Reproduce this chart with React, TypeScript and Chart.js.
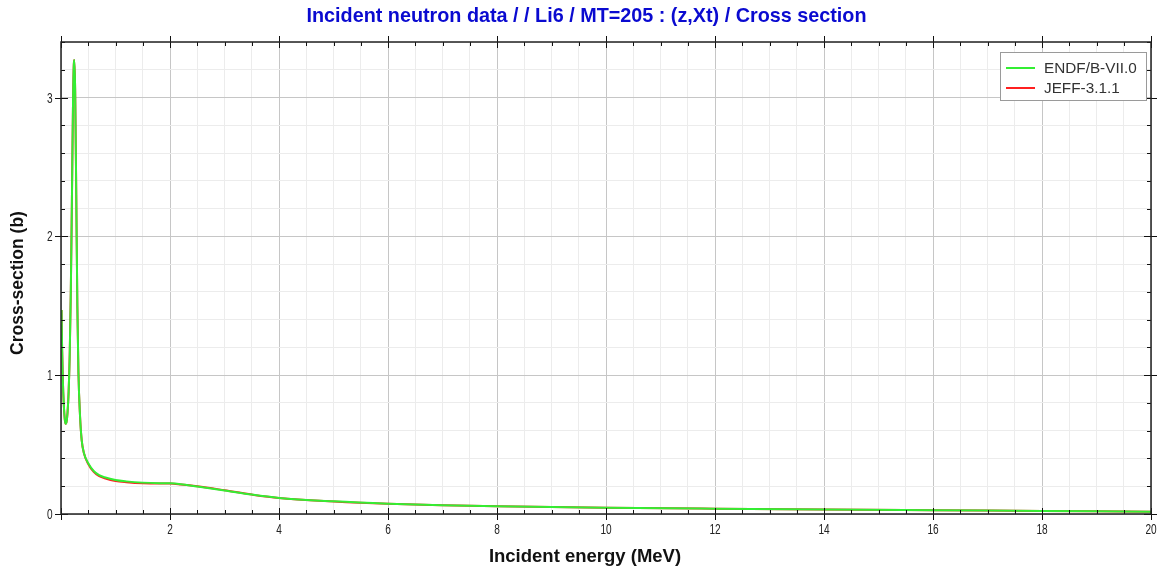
import React, { useEffect, useRef } from 'react';
import { Chart, registerables } from 'chart.js';

Chart.register(...registerables);

const chartTitle = 'Incident neutron data / / Li6 / MT=205 : (z,Xt) / Cross section';
const xAxisTitle = 'Incident energy (MeV)';
const yAxisTitle = 'Cross-section (b)';
const seriesNames = ['ENDF/B-VII.0', 'JEFF-3.1.1'];
const seriesColors = ['#33ee33', '#ff2020'];

const energyMeV = [
  0.01, 0.02, 0.035, 0.05, 0.07, 0.085, 0.1, 0.12, 0.14, 0.16, 0.18, 0.2, 0.22, 0.235, 0.245,
  0.26, 0.28, 0.3, 0.32, 0.35, 0.38, 0.42, 0.5, 0.6, 0.7, 0.8, 1.0, 1.2, 1.5, 1.8, 2.0, 2.2,
  2.5, 3.0, 3.5, 4.0, 5.0, 6.0, 7.0, 8.0, 10, 12, 14, 16, 18, 20,
];
const endfValues = [
  1.47, 1.2, 0.95, 0.8, 0.68, 0.65, 0.66, 0.73, 0.88, 1.15, 1.6, 2.25, 2.95, 3.24, 3.27,
  3.05, 2.3, 1.5, 1.02, 0.7, 0.53, 0.44, 0.365, 0.31, 0.28, 0.265, 0.245, 0.235, 0.226, 0.222, 0.221, 0.215,
  0.198, 0.17, 0.14, 0.116, 0.091, 0.074, 0.063, 0.055, 0.045, 0.038, 0.032, 0.027, 0.022, 0.017,
];
const jeffValues = [
  1.47, 1.2, 0.95, 0.8, 0.68, 0.65, 0.66, 0.73, 0.88, 1.15, 1.6, 2.25, 2.95, 3.24, 3.27,
  3.05, 2.3, 1.5, 1.02, 0.7, 0.53, 0.44, 0.36, 0.303, 0.272, 0.258, 0.238, 0.229, 0.221, 0.219, 0.219, 0.213,
  0.2, 0.171, 0.14, 0.115, 0.09, 0.073, 0.063, 0.055, 0.045, 0.038, 0.032, 0.027, 0.022, 0.017,
];
const xTickLabels = [2, 4, 6, 8, 10, 12, 14, 16, 18, 20];
const yTickLabels = [0, 1, 2, 3];

const near = (a: number, b: number) => Math.abs(a - b) < 1e-6;
const isXMajor = (v: number) => xTickLabels.some((t) => near(t, v)) || near(v, 0);
const isYMajor = (v: number) => yTickLabels.some((t) => near(t, v));

const drawNarrow = (ctx: any, text: string, x: number, y: number, align: string) => {
  const sx = 0.72;
  ctx.save();
  ctx.translate(x, y);
  ctx.scale(sx, 1);
  ctx.textAlign = align;
  ctx.fillText(text, 0, 0);
  ctx.restore();
};

const decorPlugin = {
  id: 'decor',
  afterDraw(chart: any) {
    const { ctx, chartArea: a, scales } = chart;
    const xs = scales.x;
    const ys = scales.y;
    ctx.save();
    // ticks
    ctx.strokeStyle = '#111';
    ctx.lineWidth = 1;
    ctx.beginPath();
    xs.ticks.forEach((t: any) => {
      const px = Math.round(xs.getPixelForValue(t.value)) + 0.5;
      const major = isXMajor(t.value);
      ctx.moveTo(px, a.bottom + (major ? 6 : 0));
      ctx.lineTo(px, a.bottom - (major ? 6 : 4));
      ctx.moveTo(px, a.top - (major ? 6 : 0));
      ctx.lineTo(px, a.top + (major ? 6 : 4));
    });
    ys.ticks.forEach((t: any) => {
      const py = Math.round(ys.getPixelForValue(t.value)) + 0.5;
      const major = isYMajor(t.value);
      ctx.moveTo(a.left - (major ? 6 : 0), py);
      ctx.lineTo(a.left + (major ? 7 : 4), py);
      ctx.moveTo(a.right + (major ? 6 : 0), py);
      ctx.lineTo(a.right - (major ? 7 : 4), py);
    });
    ctx.stroke();
    // frame
    ctx.strokeStyle = '#222';
    ctx.lineWidth = 1.5;
    ctx.strokeRect(Math.round(a.left), Math.round(a.top), Math.round(a.right - a.left), Math.round(a.bottom - a.top));
    // tick labels (narrow font)
    ctx.fillStyle = '#222';
    ctx.font = '14px "Liberation Sans", Arial, sans-serif';
    ctx.textBaseline = 'alphabetic';
    xTickLabels.forEach((v) => {
      drawNarrow(ctx, String(v), xs.getPixelForValue(v), a.bottom + 19.5, 'center');
    });
    yTickLabels.forEach((v) => {
      drawNarrow(ctx, String(v), a.left - 8.3, ys.getPixelForValue(v) + 5, 'right');
    });
    // legend
    const lx = 1000.5;
    const ly = 52.5;
    ctx.fillStyle = '#ffffff';
    ctx.fillRect(lx, ly, 146, 48);
    ctx.strokeStyle = '#9a9a9a';
    ctx.lineWidth = 1;
    ctx.strokeRect(lx, ly, 146, 48);
    ctx.font = '15.3px "Liberation Sans", Arial, sans-serif';
    ctx.textBaseline = 'middle';
    ctx.textAlign = 'left';
    seriesNames.forEach((name, i) => {
      const y = 68 + i * 20;
      ctx.strokeStyle = seriesColors[i];
      ctx.lineWidth = 2;
      ctx.beginPath();
      ctx.moveTo(1006, y);
      ctx.lineTo(1035, y);
      ctx.stroke();
      ctx.fillStyle = '#333';
      ctx.fillText(name, 1044, y + 1);
    });
    // axis titles
    ctx.fillStyle = '#111';
    ctx.font = 'bold 18.5px "Liberation Sans", Arial, sans-serif';
    ctx.textAlign = 'center';
    ctx.fillText(xAxisTitle, 585, 557);
    ctx.save();
    ctx.translate(18, 283);
    ctx.rotate(-Math.PI / 2);
    ctx.font = 'bold 17.5px "Liberation Sans", Arial, sans-serif';
    ctx.fillText(yAxisTitle, 0, 0);
    ctx.restore();
    ctx.restore();
  },
};

export default function App() {
  const canvasRef = useRef<HTMLCanvasElement | null>(null);

  useEffect(() => {
    document.body.style.margin = '0';
    const canvas = canvasRef.current;
    if (!canvas) return;
    const chart = new Chart(canvas, {
      type: 'line',
      data: {
        datasets: [
          {
            label: seriesNames[0],
            data: energyMeV.map((e, i) => ({ x: e, y: endfValues[i] })),
            borderColor: seriesColors[0],
            borderWidth: 2,
            pointRadius: 0,
            cubicInterpolationMode: 'monotone',
            fill: false,
          },
          {
            label: seriesNames[1],
            data: energyMeV.map((e, i) => ({ x: e, y: jeffValues[i] })),
            borderColor: seriesColors[1],
            borderWidth: 2,
            pointRadius: 0,
            cubicInterpolationMode: 'monotone',
            fill: false,
          },
        ],
      },
      options: {
        animation: false,
        responsive: false,
        devicePixelRatio: 1,
        layout: { padding: { left: 22, right: 10, top: 0, bottom: 0 } },
        plugins: {
          legend: { display: false },
          tooltip: { enabled: false },
          title: {
            display: true,
            text: chartTitle,
            color: '#0a0ad0',
            font: { family: '"Liberation Sans", Arial, sans-serif', size: 19.8, weight: 'bold', lineHeight: 1.2 },
            padding: { top: 5, bottom: 13.24 },
          },
        },
        scales: {
          x: {
            type: 'linear',
            min: 0,
            max: 20,
            afterFit: (s: any) => {
              s.height = 54;
            },
            border: { display: false },
            grid: {
              drawTicks: false,
              color: (c: any) => (isXMajor(c.tick.value) ? '#c6c6c6' : '#ececec'),
              lineWidth: 1,
            },
            ticks: {
              stepSize: 0.5,
              autoSkip: false,
              maxRotation: 0,
              display: false,
            },
          },
          y: {
            type: 'linear',
            min: 0,
            max: 3.4,
            afterFit: (s: any) => {
              s.width = 39;
            },
            border: { display: false },
            grid: {
              drawTicks: false,
              color: (c: any) => (isYMajor(c.tick.value) ? '#c6c6c6' : '#ececec'),
              lineWidth: 1,
            },
            ticks: {
              stepSize: 0.2,
              autoSkip: false,
              display: false,
            },
          },
        },
      },
      plugins: [decorPlugin],
    } as any);
    return () => chart.destroy();
  }, []);

  return (
    <div style={{ width: 1161, height: 568, background: '#fff' }}>
      <canvas ref={canvasRef} width={1161} height={568} style={{ display: 'block' }} />
    </div>
  );
}
